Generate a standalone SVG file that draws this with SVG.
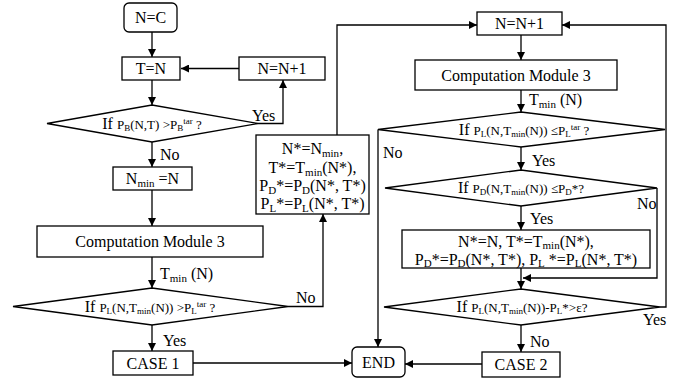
<svg xmlns="http://www.w3.org/2000/svg" width="679" height="384" viewBox="0 0 679 384" font-family="'Liberation Serif', 'DejaVu Serif', serif">
<defs>
<marker id="ar" markerUnits="userSpaceOnUse" markerWidth="9" markerHeight="8" refX="8" refY="4" orient="auto">
<path d="M0,0 L8,4 L0,8 z" fill="#000"/>
</marker>
<style>
rect,polygon{fill:#fff;stroke:#000;stroke-width:1.3}
.c{fill:none;stroke:#000;stroke-width:1.3}
text{font-family:'Liberation Serif','DejaVu Serif',serif;font-size:16px;fill:#000}
.m{text-anchor:middle}
.d{font-size:13px}
.s{font-size:9px}
.b{font-size:11px}
</style>
</defs>
<rect width="679" height="384" style="fill:#fff;stroke:none"/>
<g id="connectors">
<path class="c" d="M152,32 V57" marker-end="url(#ar)"/>
<path class="c" d="M239,68.5 H181" marker-end="url(#ar)"/>
<path class="c" d="M152,80 V105" marker-end="url(#ar)"/>
<path class="c" d="M258,123.5 H283 V80" marker-end="url(#ar)"/>
<path class="c" d="M152,142 V167" marker-end="url(#ar)"/>
<path class="c" d="M152,190 V226" marker-end="url(#ar)"/>
<path class="c" d="M152,257 V288" marker-end="url(#ar)"/>
<path class="c" d="M152,325 V351" marker-end="url(#ar)"/>
<path class="c" d="M288,306.5 H323 V214" marker-end="url(#ar)"/>
<path class="c" d="M337,135 V25 H477" marker-end="url(#ar)"/>
<path class="c" d="M193,363 H352" marker-end="url(#ar)"/>
<path class="c" d="M521,35 V60" marker-end="url(#ar)"/>
<path class="c" d="M521,90 V112" marker-end="url(#ar)"/>
<path class="c" d="M521,147 V170" marker-end="url(#ar)"/>
<path class="c" d="M521,206 V230" marker-end="url(#ar)"/>
<path class="c" d="M521,268 V289" marker-end="url(#ar)"/>
<path class="c" d="M657,188 V278 H523" marker-end="url(#ar)"/>
<path class="c" d="M660,307 H666 V25 H562" marker-end="url(#ar)"/>
<path class="c" d="M521,325 V352" marker-end="url(#ar)"/>
<path class="c" d="M482,364 H405" marker-end="url(#ar)"/>
<path class="c" d="M378,129.5 V347" marker-end="url(#ar)"/>
<text x="252" y="121">Yes</text>
<text x="160" y="160">No</text>
<text x="160" y="279">T<tspan class="b" dy="3">min</tspan><tspan dy="-3"> (N)</tspan></text>
<text x="296" y="303">No</text>
<text x="163" y="346">Yes</text>
<text x="529" y="105">T<tspan class="b" dy="3">min</tspan><tspan dy="-3"> (N)</tspan></text>
<text x="383" y="158">No</text>
<text x="532" y="166">Yes</text>
<text x="637" y="209">No</text>
<text x="530" y="224">Yes</text>
<text x="643" y="325">Yes</text>
<text x="530" y="347">No</text>
</g>
<g id="n_nc"><rect x="124" y="3" width="53" height="29" rx="5"/><text class="m" x="150.5" y="23">N=C</text></g>
<g id="n_tn"><rect x="122" y="57" width="58" height="23"/><text class="m" x="151" y="74">T=N</text></g>
<g id="n_inc1"><rect x="239" y="57" width="86" height="23"/><text class="m" x="282" y="74">N=N+1</text></g>
<g id="n_d1"><polygon points="47,123.5 152,105 258,123.5 152,142"/>
<text class="m" x="152" y="129">If <tspan class="d">P<tspan class="s" dy="2">B</tspan><tspan dy="-2">(N,T) &gt;P</tspan><tspan class="s" dy="2">B</tspan><tspan class="s" dy="-7">tar</tspan><tspan dy="5"> ?</tspan></tspan></text></g>
<g id="n_nmin"><rect x="113" y="167" width="79" height="23"/><text class="m" x="152.5" y="184">N<tspan class="b" dy="3">min</tspan><tspan dy="-3"> =N</tspan></text></g>
<g id="n_cm1"><rect x="37" y="226" width="226" height="31"/><text class="m" x="150" y="247">Computation Module 3</text></g>
<g id="n_d2"><polygon points="13,306.5 152,288 288,306.5 152,325"/>
<text class="m" x="150" y="312">If <tspan class="d">P<tspan class="s" dy="2">L</tspan><tspan dy="-2">(N,T</tspan><tspan class="s" dy="2">min</tspan><tspan dy="-2">(N)) &gt;P</tspan><tspan class="s" dy="2">L</tspan><tspan class="s" dy="-7">tar</tspan><tspan dy="5"> ?</tspan></tspan></text></g>
<g id="n_case1"><rect x="113" y="351" width="80" height="24"/><text class="m" x="153" y="369">CASE 1</text></g>
<g id="n_star1"><rect x="256" y="135" width="113" height="79"/>
<text class="m" x="312.5" y="154">N*=N<tspan class="b" dy="3">min</tspan><tspan dy="-3">,</tspan></text>
<text class="m" x="312.5" y="173">T*=T<tspan class="b" dy="3">min</tspan><tspan dy="-3">(N*),</tspan></text>
<text class="m" x="312.5" y="191">P<tspan class="b" dy="3">D</tspan><tspan dy="-3">*=P</tspan><tspan class="b" dy="3">D</tspan><tspan dy="-3">(N*, T*)</tspan></text>
<text class="m" x="312.5" y="209">P<tspan class="b" dy="3">L</tspan><tspan dy="-3">*=P</tspan><tspan class="b" dy="3">L</tspan><tspan dy="-3">(N*, T*)</tspan></text></g>
<g id="n_inc2"><rect x="477" y="12" width="85" height="23"/><text class="m" x="519.5" y="29">N=N+1</text></g>
<g id="n_cm2"><rect x="415" y="60" width="202" height="30"/><text class="m" x="516" y="81">Computation Module 3</text></g>
<g id="n_d3"><polygon points="378,129.5 521,112 665,129.5 521,147"/>
<text class="m" x="524" y="135">If <tspan class="d">P<tspan class="s" dy="2">L</tspan><tspan dy="-2">(N,T</tspan><tspan class="s" dy="2">min</tspan><tspan dy="-2">(N)) ≤P</tspan><tspan class="s" dy="2">L</tspan><tspan class="s" dy="-7">tar</tspan><tspan dy="5"> ?</tspan></tspan></text></g>
<g id="n_d4"><polygon points="385,188 521,170 657,188 521,206"/>
<text class="m" x="521" y="193">If <tspan class="d">P<tspan class="s" dy="2">D</tspan><tspan dy="-2">(N,T</tspan><tspan class="s" dy="2">min</tspan><tspan dy="-2">(N)) ≤P</tspan><tspan class="s" dy="2">D</tspan><tspan dy="-2">*?</tspan></tspan></text></g>
<g id="n_star2"><rect x="402" y="230" width="248" height="38"/>
<text class="m" x="526" y="247">N*=N, T*=T<tspan class="b" dy="2">min</tspan><tspan dy="-2">(N*),</tspan></text>
<text class="m" x="526" y="265">P<tspan class="b" dy="2">D</tspan><tspan dy="-2">*=P</tspan><tspan class="b" dy="2">D</tspan><tspan dy="-2">(N*, T*), P</tspan><tspan class="b" dy="2">L</tspan><tspan dy="-2"> *=P</tspan><tspan class="b" dy="2">L</tspan><tspan dy="-2">(N*, T*)</tspan></text></g>
<g id="n_d5"><polygon points="384,307 521,289 660,307 521,325"/>
<text class="m" x="522" y="312">If <tspan class="d">P<tspan class="s" dy="2">L</tspan><tspan dy="-2">(N,T</tspan><tspan class="s" dy="2">min</tspan><tspan dy="-2">(N))-P</tspan><tspan class="s" dy="2">L</tspan><tspan dy="-2">*&gt;ε?</tspan></tspan></text></g>
<g id="n_case2"><rect x="482" y="352" width="78" height="25"/><text class="m" x="521" y="370">CASE 2</text></g>
<g id="n_end"><rect x="352" y="347" width="53" height="30" rx="5"/><text class="m" x="378.5" y="368">END</text></g>
</svg>
